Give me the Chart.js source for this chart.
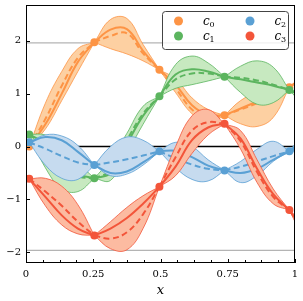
<!DOCTYPE html>
<html>
<head>
<meta charset="utf-8">
<script src="https://cdn.jsdelivr.net/npm/chart.js@4"></script>
<style>
  html, body { margin: 0; padding: 0; background: #fff; }
</style>
</head>
<body>
<canvas id="chart" width="303" height="301"></canvas>
<script>
// sample positions along x (points sit at every 4th one)
const xs = [0.012, 0.072, 0.133, 0.193, 0.254, 0.314, 0.375, 0.435, 0.496,
            0.556, 0.617, 0.677, 0.738, 0.798, 0.859, 0.919, 0.979, 1.0];
const pointIdx = [0, 4, 8, 12, 16];

// c0
const c0Mean  = [0.0, 0.42, 1.0, 1.6, 1.97, 2.21, 2.22, 1.81, 1.45, 1.17, 0.78, 0.60, 0.59, 0.72, 0.85, 0.98, 1.12, 1.2];
const c0Dash  = [0.0, 0.52, 1.15, 1.68, 1.97, 2.09, 2.14, 1.76, 1.45, 1.10, 0.70, 0.54, 0.59, 0.70, 0.82, 0.95, 1.12, 1.2];
const c0Upper = [0.0, 0.82, 1.42, 1.85, 1.97, 2.40, 2.42, 1.93, 1.45, 1.28, 0.92, 0.70, 0.59, 0.87, 1.02, 1.10, 1.12, 1.22];
const c0Lower = [0.0, 0.33, 0.87, 1.42, 1.97, 1.85, 1.75, 1.62, 1.45, 1.02, 0.62, 0.44, 0.59, 0.43, 0.38, 0.55, 1.12, 1.18];
// c1
const c1Mean  = [0.23, 0.05, -0.28, -0.52, -0.60, -0.50, 0.05, 0.58, 0.95, 1.36, 1.46, 1.42, 1.32, 1.27, 1.21, 1.15, 1.07, 1.02];
const c1Dash  = [0.23, 0.0, -0.35, -0.56, -0.60, -0.45, 0.12, 0.62, 0.95, 1.27, 1.38, 1.38, 1.32, 1.30, 1.25, 1.17, 1.07, 1.02];
const c1Upper = [0.23, 0.22, 0.05, -0.30, -0.60, -0.25, 0.25, 0.76, 0.95, 1.55, 1.71, 1.58, 1.32, 1.52, 1.62, 1.50, 1.07, 1.05];
const c1Lower = [0.23, -0.40, -0.80, -0.85, -0.60, -0.64, -0.12, 0.42, 0.95, 1.10, 1.17, 1.24, 1.32, 1.02, 0.80, 0.83, 1.07, 0.95];
// c2
const c2Mean  = [0.08, 0.18, 0.12, -0.10, -0.35, -0.50, -0.47, -0.30, -0.09, -0.08, -0.20, -0.36, -0.45, -0.50, -0.42, -0.25, -0.09, 0.0];
const c2Dash  = [0.08, -0.04, -0.18, -0.30, -0.35, -0.30, -0.24, -0.17, -0.09, -0.22, -0.34, -0.42, -0.45, -0.38, -0.28, -0.18, -0.09, -0.05];
const c2Upper = [0.08, 0.22, 0.20, 0.02, -0.35, 0.0, 0.18, 0.12, -0.09, 0.08, 0.0, -0.25, -0.45, -0.28, -0.05, 0.10, -0.09, 0.05];
const c2Lower = [0.08, -0.35, -0.60, -0.62, -0.35, -0.55, -0.52, -0.35, -0.09, -0.40, -0.62, -0.65, -0.45, -0.68, -0.55, -0.28, -0.09, -0.1];
// c3
const c3Mean  = [-0.61, -0.95, -1.30, -1.55, -1.68, -1.55, -1.35, -1.08, -0.76, -0.38, 0.12, 0.36, 0.43, 0.15, -0.42, -0.90, -1.20, -1.35];
const c3Dash  = [-0.61, -0.85, -1.12, -1.42, -1.68, -1.74, -1.62, -1.28, -0.76, -0.20, 0.30, 0.46, 0.43, 0.10, -0.48, -0.95, -1.20, -1.35];
const c3Upper = [-0.61, -0.60, -0.75, -1.10, -1.68, -1.42, -1.15, -0.93, -0.76, 0.0, 0.58, 0.70, 0.43, 0.30, -0.25, -0.80, -1.20, -1.30];
const c3Lower = [-0.61, -1.12, -1.48, -1.65, -1.68, -1.93, -1.95, -1.55, -0.76, -0.55, -0.13, 0.22, 0.43, -0.05, -0.68, -1.08, -1.20, -1.42];

const labels = ['0', '1', '2', '3'];
const lineColors = ['#fd9445', '#5cb55f', '#5aa0d4', '#f3553a'];
const fillColors = ['#fdd0a2', '#c7e9c0', '#c6dbef', '#fcbba1'];

const xTicks = [0, 0.25, 0.5, 0.75, 1];
const yTicks = [-2, -1, 0, 1, 2];
const refLevels = [1.96, 0, -1.96];

const series = [
  { mean: c0Mean, dash: c0Dash, upper: c0Upper, lower: c0Lower },
  { mean: c1Mean, dash: c1Dash, upper: c1Upper, lower: c1Lower },
  { mean: c2Mean, dash: c2Dash, upper: c2Upper, lower: c2Lower },
  { mean: c3Mean, dash: c3Dash, upper: c3Upper, lower: c3Lower }
];

// each lens between two points is its own piece, so the band pinches at the points
const pieces = [[0, 4], [4, 8], [8, 12], [12, 16], [16, 17]];

const pts = (arr, a, b) => xs.slice(a, b + 1).map((x, j) => ({ x: x, y: arr[a + j] }));

const datasets = [];

refLevels.forEach(v => {
  datasets.push({
    data: [{ x: 0, y: v }, { x: 1, y: v }],
    borderColor: v === 0 ? '#000' : '#b4b4b4',
    borderWidth: v === 0 ? 1.4 : 1.3,
    pointRadius: 0, fill: false, order: 100
  });
});

series.forEach((s, k) => {
  const base = (3 - k) * 10;
  const col = lineColors[k];
  pieces.forEach(([a, b]) => {
    datasets.push({
      data: pts(s.upper, a, b), borderColor: col, borderWidth: 0.8,
      backgroundColor: fillColors[k], fill: '+1', pointRadius: 0, tension: 0.4, order: base + 4
    });
    datasets.push({
      data: pts(s.lower, a, b), borderColor: col, borderWidth: 0.8,
      fill: false, pointRadius: 0, tension: 0.4, order: base + 3
    });
    datasets.push({
      data: pts(s.dash, a, b), borderColor: col, borderWidth: 2, borderDash: [6, 3.5],
      fill: false, pointRadius: 0, tension: 0.4, order: base + 2
    });
    datasets.push({
      data: pts(s.mean, a, b), borderColor: col, borderWidth: 2,
      fill: false, pointRadius: 0, tension: 0.4, order: base + 1
    });
  });
  datasets.push({
    data: pointIdx.map(i => ({ x: xs[i], y: s.mean[i] })),
    showLine: false, pointRadius: 4, pointBackgroundColor: col,
    pointBorderWidth: 0, order: base
  });
});

const serif = 'DejaVu Serif';

// frame, inward ticks and the legend box
const decor = {
  id: 'decor',
  afterDraw(chart) {
    const { ctx, chartArea: a, scales: { x, y } } = chart;
    ctx.save();
    ctx.strokeStyle = '#000';
    ctx.lineWidth = 1;
    ctx.strokeRect(a.left + 0.5, a.top + 0.5, a.right - a.left - 1, a.bottom - a.top - 1);
    ctx.beginPath();
    for (let i = 0; i <= 16; i++) {
      const v = i / 16;
      const px = Math.round(x.getPixelForValue(v)) + 0.5;
      const len = i % 4 === 0 ? 4 : 3;
      ctx.moveTo(px, a.bottom);
      ctx.lineTo(px, a.bottom - len);
    }
    yTicks.forEach(v => {
      const py = Math.round(y.getPixelForValue(v)) + 0.5;
      ctx.moveTo(a.left, py);
      ctx.lineTo(a.left + 4, py);
    });
    ctx.stroke();

    // legend
    const lx = 162.5, ly = 11.5, lw = 126, lh = 38;
    ctx.beginPath();
    ctx.roundRect(lx, ly, lw, lh, 3);
    ctx.fillStyle = 'rgba(255,255,255,0.8)';
    ctx.fill();
    ctx.strokeStyle = '#444';
    ctx.stroke();
    const slots = [[178.5, 21, 0], [178.5, 36, 1], [250, 21, 2], [250, 36, 3]];
    slots.forEach(([cx, cy, k]) => {
      ctx.beginPath();
      ctx.arc(cx, cy, 4.5, 0, Math.PI * 2);
      ctx.fillStyle = lineColors[k];
      ctx.fill();
      ctx.fillStyle = '#000';
      ctx.textBaseline = 'alphabetic';
      ctx.font = 'italic 12px "' + serif + '"';
      ctx.fillText('c', cx + 24.5, cy + 3.5);
      ctx.font = '8px "' + serif + '"';
      ctx.fillText(labels[k], cx + 31, cy + 6);
    });
    ctx.restore();
  }
};

new Chart(document.getElementById('chart'), {
  type: 'line',
  data: { datasets: datasets },
  options: {
    responsive: false,
    animation: false,
    devicePixelRatio: 1,
    layout: { padding: { left: 0, right: 8, top: 5, bottom: 0 } },
    plugins: { legend: { display: false }, tooltip: { enabled: false } },
    scales: {
      x: {
        type: 'linear', min: 0, max: 1,
        grid: { display: false, drawTicks: false },
        border: { display: false },
        afterBuildTicks: s => { s.ticks = xTicks.map(v => ({ value: v })); },
        afterFit: s => { s.height = 38; s.paddingLeft = 0; s.paddingRight = 0; },
        ticks: {
          color: '#000', padding: 5, maxRotation: 0,
          font: { family: serif, size: 10 },
          callback: v => String(v)
        },
        title: {
          display: true, text: 'x', color: '#000',
          font: { family: serif, size: 13, style: 'italic' },
          padding: { top: 0, bottom: 3 }
        }
      },
      y: {
        type: 'linear', min: -2.2, max: 2.675,
        grid: { display: false, drawTicks: false },
        border: { display: false },
        afterBuildTicks: s => { s.ticks = yTicks.map(v => ({ value: v })); },
        afterFit: s => { s.width = 26; s.paddingTop = 0; s.paddingBottom = 0; },
        ticks: {
          color: '#000', padding: 5,
          font: { family: serif, size: 10 },
          callback: v => (v < 0 ? '\u2212' + (-v) : String(v))
        }
      }
    }
  },
  plugins: [decor]
});
</script>
</body>
</html>
